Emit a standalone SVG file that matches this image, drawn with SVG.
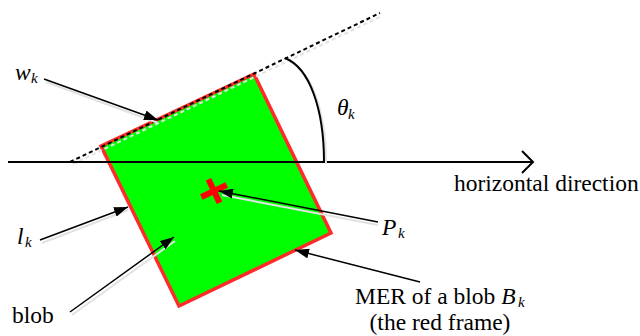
<svg xmlns="http://www.w3.org/2000/svg" width="640" height="336" viewBox="0 0 640 336">
<style>
text{font-family:'Liberation Serif','DejaVu Serif',serif;fill:#000}
.t{font-size:23.5px}
.i{font-style:italic}
.sub{font-size:15px;font-style:italic}
.ln{stroke:#000;stroke-width:1.5;fill:none}
.sh{stroke:#e2e2e2;stroke-width:2;fill:none}
</style>
<defs>
<marker id="ah" markerUnits="userSpaceOnUse" markerWidth="15" markerHeight="10" refX="14" refY="5" orient="auto">
<path d="M0,0 L14,5 L0,10 z" fill="#000"/>
</marker>
</defs>
<rect width="640" height="336" fill="#fff"/>
<g id="blob">
<polygon points="101,146 254,74 331,233 179,306" fill="#00ff00" stroke="#ff2a2a" stroke-width="3.5" stroke-linejoin="miter"/>
</g>
<g id="centroid" transform="translate(214,191) rotate(-25)">
<rect x="-14" y="-3" width="28" height="6" fill="#ff0000"/>
<rect x="-3" y="-13" width="6" height="26" fill="#ff0000"/>
</g>
<g id="connectors">
<line class="sh" x1="73" y1="164" x2="382" y2="16" stroke-dasharray="4,3"/>
<line x1="70" y1="162" x2="380" y2="13" stroke="#000" stroke-width="2" stroke-dasharray="4,3"/>
<line x1="8" y1="162" x2="532" y2="162" stroke="#000" stroke-width="2"/>
<polyline points="522,151 533,162 522,173" fill="none" stroke="#000" stroke-width="2"/>
<path class="sh" d="M287,60 C312,70 326,112 326,164"/>
<path d="M285,58 C310,68 324,110 324,162" fill="none" stroke="#000" stroke-width="2"/>
<line class="sh" x1="46" y1="82" x2="158" y2="123"/>
<line class="ln" x1="44" y1="79" x2="158" y2="120" marker-end="url(#ah)"/>
<line class="sh" x1="42" y1="243" x2="128" y2="210"/>
<line class="ln" x1="40" y1="240" x2="128" y2="207" marker-end="url(#ah)"/>
<line class="sh" x1="72" y1="315" x2="175" y2="241"/>
<line class="ln" x1="70" y1="312" x2="174" y2="237" marker-end="url(#ah)"/>
<line class="sh" x1="378" y1="225" x2="222" y2="195"/>
<line class="ln" x1="378" y1="222" x2="219" y2="191" marker-end="url(#ah)"/>
<line class="ln" x1="420" y1="282" x2="295" y2="250" marker-end="url(#ah)"/>
</g>
<g id="label-w">
<text class="t i" x="15" y="80">w</text><text class="sub" x="31" y="83">k</text>
</g>
<g id="label-theta">
<text class="t i" x="337" y="115">θ</text><text class="sub" x="348" y="119">k</text>
</g>
<g id="label-horizontal">
<text class="t" x="454" y="191">horizontal direction</text>
</g>
<g id="label-l">
<text class="t i" x="17" y="244">l</text><text class="sub" x="25" y="247">k</text>
</g>
<g id="label-P">
<text class="t i" x="382" y="235">P</text><text class="sub" x="398" y="238">k</text>
</g>
<g id="label-blob">
<text class="t" x="12" y="323">blob</text>
</g>
<g id="label-MER">
<text class="t" x="355" y="304">MER of a blob <tspan class="i">B</tspan></text><text class="sub" x="518" y="307">k</text>
<text class="t" x="440" y="330" text-anchor="middle">(the red frame)</text>
</g>
</svg>
